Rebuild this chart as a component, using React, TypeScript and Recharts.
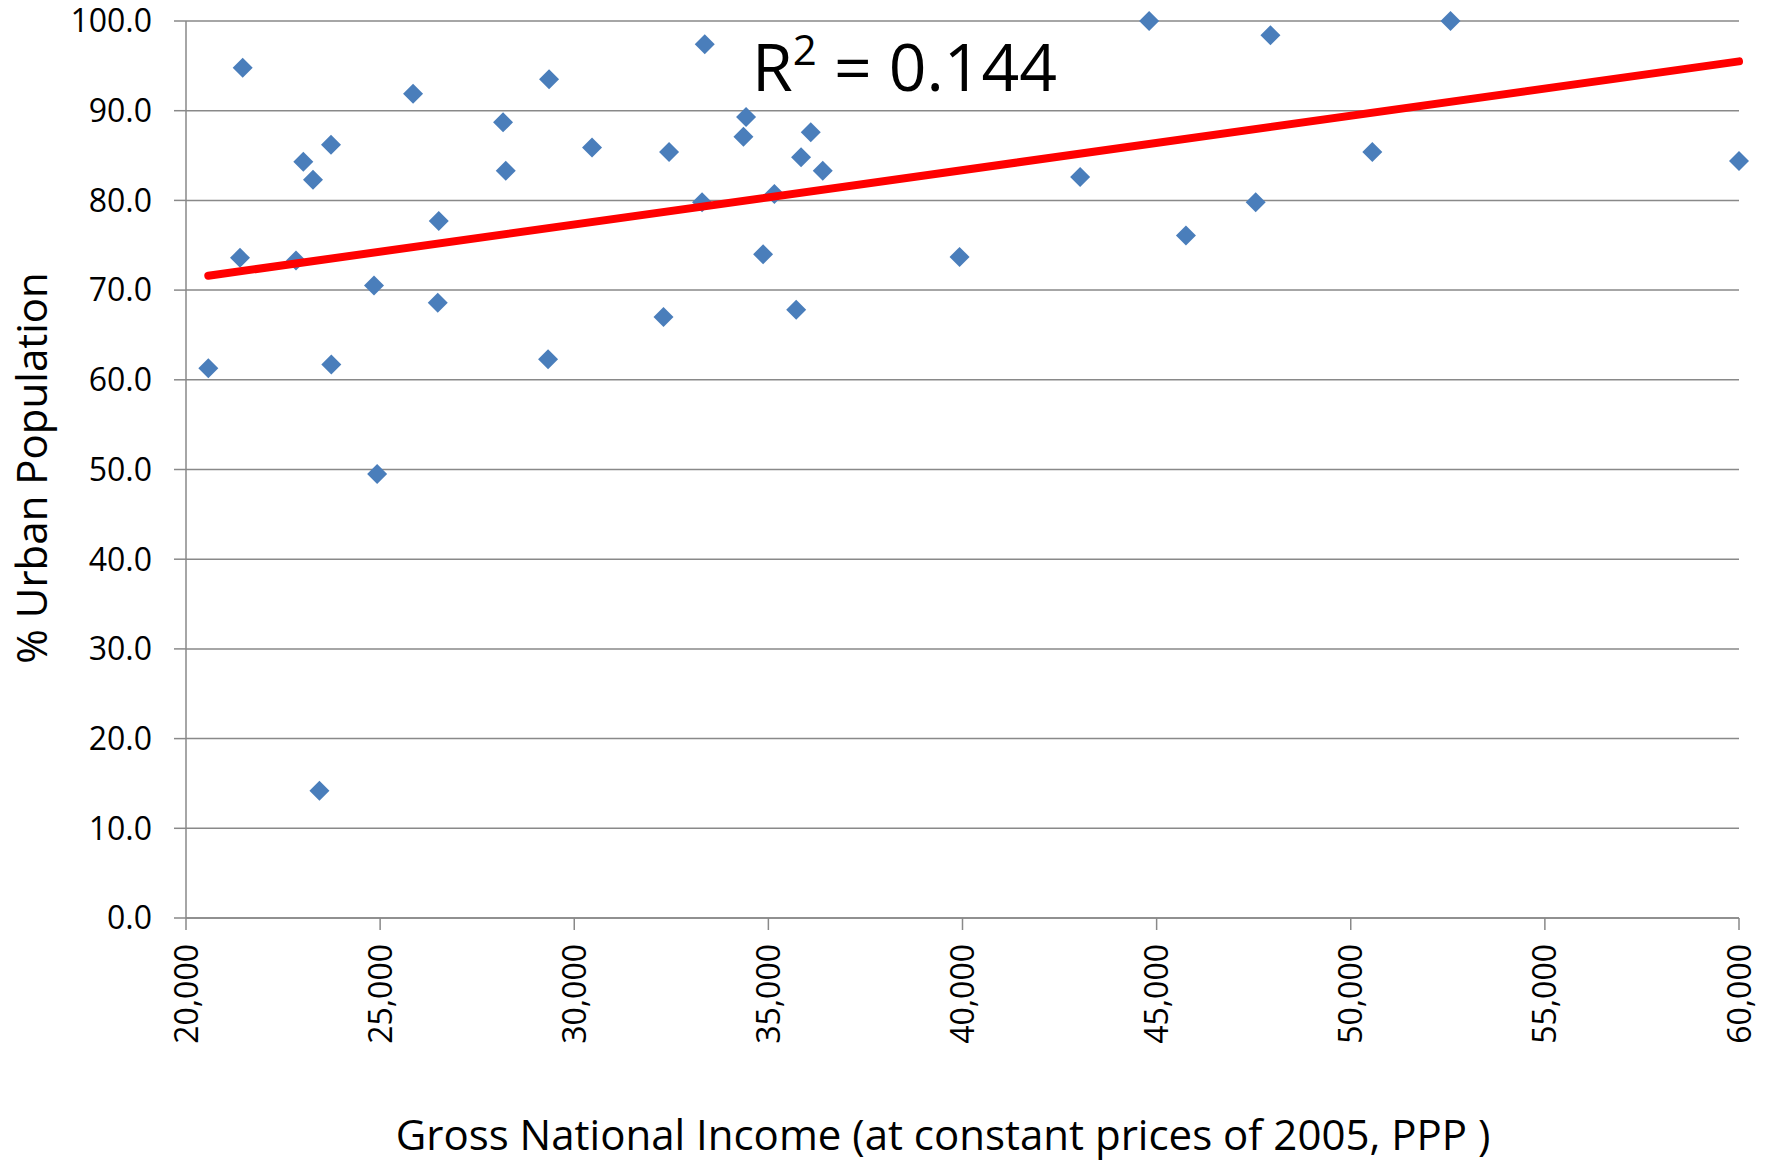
import { ScatterChart, Scatter, XAxis, YAxis, CartesianGrid } from 'recharts';

// GNI per capita (2005 PPP) vs % urban population
const gni = [
  20574, 21460, 21391, 22834, 23022, 23271, 23735, 23743, 23437, 24843,
  24923, 25848, 26510, 26484, 28166, 28236, 29351, 29325, 30458, 32299,
  32442, 33292, 33362, 34357, 34425, 34864, 35154, 35717, 35842, 36091,
  36401, 39924, 43029, 44807, 45755, 47551, 47932, 50556, 52569, 60000,
];
const urban = [
  61.3, 94.8, 73.6, 73.3, 84.3, 82.3, 86.2, 61.7, 14.2, 70.5,
  49.5, 91.9, 77.7, 68.6, 88.7, 83.3, 93.5, 62.3, 85.9, 67.0,
  85.4, 79.8, 97.4, 87.1, 89.3, 74.0, 80.7, 67.8, 84.8, 87.6,
  83.3, 73.7, 82.6, 100.0, 76.1, 79.8, 98.4, 85.4, 100.0, 84.4,
];

// linear trendline end points as drawn
const trendX = [20574, 60000];
const trendY = [71.6, 95.5];

const xTicks = [20000, 25000, 30000, 35000, 40000, 45000, 50000, 55000, 60000];
const yTicks = [0, 10, 20, 30, 40, 50, 60, 70, 80, 90, 100];

const points = gni.map((x, i) => ({ x, y: urban[i] }));
const trend = trendX.map((x, i) => ({ x, y: trendY[i] }));

const GRID = '#898989';
const FONT = '"Open Sans", "Noto Sans", sans-serif';

function Diamond({ cx, cy }: { cx?: number; cy?: number }) {
  if (cx == null || cy == null) return null;
  const r = 10;
  return (
    <path
      d={`M${cx},${cy - r}L${cx + r},${cy}L${cx},${cy + r}L${cx - r},${cy}Z`}
      fill="#4A7EBB"
    />
  );
}

function NoMark() {
  return <g />;
}

function XTick({ x, y, payload }: any) {
  return (
    <g transform={`translate(${x},${y})`}>
      <text
        transform="rotate(-90)"
        textAnchor="end"
        dy="0.36em"
        fill="#000"
        fontSize={32}
        fontFamily={FONT}
      >
        {Number(payload.value).toLocaleString('en-US')}
      </text>
    </g>
  );
}

export default function App() {
  return (
    <div style={{ position: 'absolute', left: 0, top: 0, fontFamily: FONT, background: '#fff' }}>
      <ScatterChart
        width={1772}
        height={1164}
        margin={{ top: 21, right: 33, left: 0, bottom: 0 }}
      >
        <CartesianGrid vertical={false} stroke={GRID} strokeWidth={1.5} />
        <XAxis
          type="number"
          dataKey="x"
          domain={[20000, 60000]}
          ticks={xTicks}
          interval={0}
          height={246}
          tickSize={12}
          tickMargin={14}
          axisLine={{ stroke: GRID, strokeWidth: 1.5 }}
          tickLine={{ stroke: GRID, strokeWidth: 1.5 }}
          tick={<XTick />}
        />
        <YAxis
          type="number"
          dataKey="y"
          domain={[0, 100]}
          ticks={yTicks}
          interval={0}
          width={186}
          tickSize={12}
          tickMargin={22}
          axisLine={{ stroke: GRID, strokeWidth: 1.5 }}
          tickLine={{ stroke: GRID, strokeWidth: 1.5 }}
          tick={{ fill: '#000', fontSize: 32, fontFamily: FONT }}
          tickFormatter={(v: number) => v.toFixed(1)}
        />
        <Scatter data={points} shape={<Diamond />} isAnimationActive={false} />
        <Scatter
          data={trend}
          shape={<NoMark />}
          line={{ stroke: '#FF0000', strokeWidth: 8, strokeLinecap: 'round' }}
          isAnimationActive={false}
        />
        <text x={752} y={91} fontSize={66} fontFamily={FONT} fill="#000">
          R<tspan fontSize={42} dy={-26}>2</tspan>
          <tspan dy={26}> = 0.144</tspan>
        </text>
        <text
          x={943}
          y={1150}
          textAnchor="middle"
          fontSize={42}
          fontFamily={FONT}
          fill="#000"
        >
          Gross National Income (at constant prices of 2005, PPP )
        </text>
        <text
          transform="translate(47,468) rotate(-90)"
          textAnchor="middle"
          fontSize={42}
          fontFamily={FONT}
          fill="#000"
        >
          % Urban Population
        </text>
      </ScatterChart>
    </div>
  );
}
